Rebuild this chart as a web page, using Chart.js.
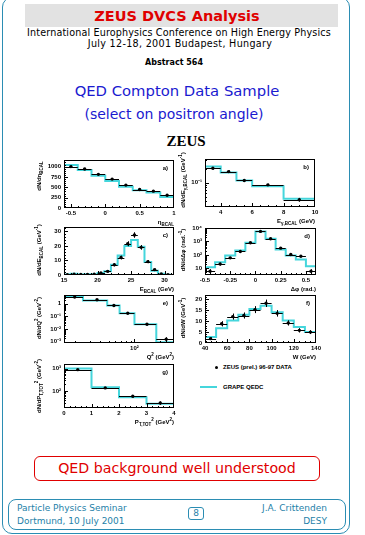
<!DOCTYPE html>
<html lang="en">
<head>
<meta charset="UTF-8">
<title>ZEUS DVCS Analysis</title>
<script src="https://cdn.jsdelivr.net/npm/chart.js"></script>
<style>
    body { margin: 0; width: 365px; height: 535px; background: #fff; position: relative; overflow: hidden;
           font-family: 'DejaVu Sans', sans-serif; }
    .c { position: absolute; white-space: nowrap; transform: translate(-50%, -50%); line-height: 1; }
    .l { position: absolute; white-space: nowrap; transform: translateY(-50%); line-height: 1; }
    .r { position: absolute; white-space: nowrap; transform: translate(-100%, -50%); line-height: 1; }
    .yt { position: absolute; white-space: nowrap; transform: translate(-50%, -50%) rotate(-90deg); line-height: 1;
          font: bold 6px 'Liberation Sans', sans-serif; }
    .ax { font: bold 6px 'Liberation Sans', sans-serif; }
    sub, sup { font-size: 4.5px; line-height: 0; }
    #slide { position: absolute; left: 2px; top: -3px; width: 346px; height: 535px; border: 1.5px solid #2b8db3; border-radius: 10px; }
    #band { position: absolute; left: 25px; top: 4px; width: 313px; height: 23px; background: #e2e2e2; }
    #redbox { position: absolute; left: 34px; top: 456px; width: 284px; height: 23px; border: 1px solid #e00000; border-radius: 6px; }
    #foot { position: absolute; left: 8px; top: 499px; width: 336px; height: 29px; border: 1px solid #2b8db3; border-radius: 8px; }
    #page { position: absolute; left: 188px; top: 507px; width: 14px; height: 11px; border: 1px solid #2b8db3; border-radius: 3px; }
    .teal { color: #1e7fa8; font-size: 9px; }
    canvas { position: absolute; }
</style>
</head>
<body>
    <div id="slide"></div>
    <div id="band"></div>
    <div class="c" style="left:177px; top:15.5px; color:#e00000; font-weight:bold; font-size:14.5px;">ZEUS DVCS Analysis</div>
    <div class="c" style="left:179px; top:33px; font-size:9.6px; letter-spacing:0.15px;">International Europhysics Conference on High Energy Physics</div>
    <div class="c" style="left:180px; top:43.5px; font-size:9.6px; letter-spacing:0.3px;">July 12-18, 2001 Budapest, Hungary</div>
    <div class="c" style="left:174px; top:63px; font-size:8px; font-weight:bold;">Abstract 564</div>
    <div class="c" style="left:177px; top:91px; color:#1a1ad0; font-size:14.8px;">QED Compton Data Sample</div>
    <div class="c" style="left:174px; top:114px; color:#1a1ad0; font-size:14px;">(select on positron angle)</div>
    <div class="c" style="left:186px; top:141px; font:bold 15px 'Liberation Serif', serif;">ZEUS</div>

    <div id="redbox"></div>
    <div class="c" style="left:177px; top:468px; color:#e00000; font-size:14.2px;">QED background well understood</div>
    <div id="foot"></div>
    <div id="page"></div>
    <div class="c teal" style="left:196px; top:513px;">8</div>
    <div class="l teal" style="left:17px; top:508px;">Particle Physics Seminar</div>
    <div class="l teal" style="left:17px; top:521px;">Dortmund, 10 July 2001</div>
    <div class="r teal" style="left:327px; top:508px;">J.A. Crittenden</div>
    <div class="r teal" style="left:327px; top:521px;">DESY</div>

    <!-- legend -->
    <div style="position:absolute; left:214.5px; top:365.5px; width:3px; height:3px; border-radius:50%; background:#000;"></div>
    <div class="l ax" style="left:223px; top:367px;">ZEUS (prel.) 96-97 DATA</div>
    <div style="position:absolute; left:200px; top:386px; width:17px; height:1.5px; background:#45d6dc;"></div>
    <div class="l ax" style="left:223px; top:387px;">GRAPE QEDC</div>

<script>
// ---- values ----
// a) eta of the BCAL cluster
const etaEdges = [-0.6, -0.4, -0.2, 0, 0.2, 0.4, 0.6, 0.8, 1.0];
const etaMC    = [1040, 919, 780, 650, 512, 431, 374, 268];
const etaData  = [1000, 943, 813, 699, 553, 447, 407, 309];
const etaErr   = [28, 27, 25, 23, 21, 19, 18, 16];

// b) photon energy
const egEdges = [3, 4, 5, 6, 8, 10];
const egMC    = [0.22, 0.164, 0.111, 0.083, 0.045];
const egData  = [0.203, 0.172, 0.111, 0.0895, 0.043];
const egErr   = [0.012, 0.011, 0.008, 0.005, 0.004];

// c) BCAL energy
const ebEdges = [15, 16, 17, 18, 19, 20, 21, 22, 23, 24, 25, 26, 27, 28, 29, 30, 31];
const ebMC    = [0.3, 0.8, 0.4, 0.5, 0.6, 1.4, 2.5, 7, 13.4, 20, 24, 19.5, 9, 3, 0.8, 0.2];
const ebData  = [0.2, 0.6, 0.3, 0.4, 0.5, 1.4, 2.5, 7, 12, 21.5, 27.5, 19, 9.2, 3.7, 0.8, 0.2];
const ebErr   = [0.2, 0.3, 0.2, 0.2, 0.3, 0.5, 0.7, 1, 1.3, 1.7, 1.9, 1.6, 1.1, 0.7, 0.3, 0.2];

// d) acoplanarity
const dphiEdges = [-0.5, -0.4, -0.3, -0.2, -0.1, 0, 0.1, 0.2, 0.3, 0.4, 0.5, 0.6];
const dphiMC    = [11.9, 28, 89, 211, 794, 5600, 1585, 251, 89, 45, 14];
const dphiData  = [6, 21, 60, 178, 794, 5600, 1585, 316, 106, 79, 6];
const dphiErr   = [2.5, 5, 8, 14, 28, 75, 40, 18, 10, 9, 2.5];

// e) Q2
const q2Edges = [15, 25, 48, 67, 100, 180, 290];
const q2MC    = [3.8, 1.84, 0.74, 0.18, 0.024, 0.0009];
const q2Data  = [3.4, 2.1, 0.74, 0.18, 0.024, 0.0016];
const q2Err   = [0.15, 0.08, 0.04, 0.015, 0.004, 0.0007];

// f) W
const wEdges = [40, 50, 60, 70, 80, 90, 100, 110, 120, 130, 140];
const wMC    = [2.7, 6.8, 10.3, 13, 15.6, 17.1, 14.1, 10.3, 7.3, 5];
const wData  = [2.0, 8.8, 12.1, 12.6, 15.3, 18.2, 13.6, 9.2, 5.8, 5];
const wErr   = [0.6, 1.2, 1.4, 1.4, 1.6, 1.7, 1.5, 1.2, 1, 0.9];

// g) total pt^2
const ptEdges = [0, 1, 2, 3, 4];
const ptMC    = [1000, 150, 54, 27.6];
const ptData  = [900, 140, 60, 30];
const ptErr   = [30, 12, 7, 5];

const CYAN = '#45d6dc';
Chart.defaults.font.family = "'Liberation Sans', sans-serif";
Chart.defaults.font.size = 6;
Chart.defaults.font.weight = 'bold';
Chart.defaults.color = '#000';

const SUP = {'-': '⁻', '0': '⁰', '1': '¹', '2': '²', '3': '³', '4': '⁴', '5': '⁵', '6': '⁶', '7': '⁷', '8': '⁸', '9': '⁹'};
function powLabel(v) {
    const n = Math.round(Math.log10(v));
    if (n === 0) return '1';
    if (n === 1) return '10';
    return '10' + String(n).split('').map(ch => SUP[ch]).join('');
}

function tickList(s, nMinor) {
    const out = [];
    if (s.type === 'logarithmic') {
        for (let n = Math.floor(Math.log10(s.min)); n <= Math.ceil(Math.log10(s.max)); n++) {
            for (let k = 1; k < 10; k++) {
                const v = k * Math.pow(10, n);
                if (v >= s.min * 0.999 && v <= s.max * 1.001) out.push({v, major: k === 1});
            }
        }
    } else {
        const t = s.ticks.map(t => t.value);
        const step = (t[1] - t[0]) / nMinor;
        for (let v = Math.ceil(s.min / step - 1e-6) * step; v <= s.max + 1e-9; v += step) {
            out.push({v, major: t.some(m => Math.abs(m - v) < step / 10)});
        }
    }
    return out;
}

// frame, inward ticks and error bars, all placed with the chart's scales
const hep = {
    id: 'hep',
    afterDatasetsDraw(chart, args, opts) {
        const {ctx, chartArea: a, scales: {x, y}} = chart;
        ctx.save();
        ctx.strokeStyle = '#000';
        ctx.lineWidth = 1;
        ctx.beginPath();
        ctx.rect(a.left, a.top, a.width, a.height);
        ctx.clip();
        chart.data.datasets.forEach(ds => {
            if (!ds.edges) return;
            ds.data.forEach((p, i) => {
                const py = Math.round(y.getPixelForValue(p.y)) + 0.5;
                const px = Math.round(x.getPixelForValue(p.x)) + 0.5;
                const lo = Math.max(p.y - ds.errs[i], y.min * 0.5);
                ctx.beginPath();
                ctx.moveTo(x.getPixelForValue(ds.edges[i]), py);
                ctx.lineTo(x.getPixelForValue(ds.edges[i + 1]), py);
                ctx.moveTo(px, y.getPixelForValue(lo));
                ctx.lineTo(px, y.getPixelForValue(p.y + ds.errs[i]));
                ctx.stroke();
            });
        });
        ctx.beginPath();
        tickList(x, opts.xMinor || 5).forEach(t => {
            const px = Math.round(x.getPixelForValue(t.v)) + 0.5;
            ctx.moveTo(px, a.bottom);
            ctx.lineTo(px, a.bottom - (t.major ? 4 : 2));
        });
        tickList(y, opts.yMinor || 5).forEach(t => {
            const py = Math.round(y.getPixelForValue(t.v)) + 0.5;
            ctx.moveTo(a.left, py);
            ctx.lineTo(a.left + (t.major ? 4 : 2), py);
        });
        ctx.stroke();
        ctx.restore();
        ctx.save();
        ctx.strokeStyle = '#000';
        ctx.lineWidth = 1;
        ctx.strokeRect(a.left + 0.5, a.top + 0.5, a.width - 1, a.height - 1);
        ctx.restore();
    }
};

function axis(spec) {
    const s = {
        type: spec.log ? 'logarithmic' : 'linear',
        min: spec.min, max: spec.max,
        grid: {display: false, drawTicks: false},
        border: {display: false},
        ticks: {autoSkip: false, maxRotation: 0, includeBounds: false, padding: 2}
    };
    if (spec.log) {
        s.afterBuildTicks = sc => {
            const t = [];
            for (let n = Math.ceil(Math.log10(sc.min) - 1e-6); Math.pow(10, n) <= sc.max * 1.001; n++) t.push({value: Math.pow(10, n)});
            sc.ticks = t;
        };
        s.ticks.callback = v => powLabel(v);
    } else {
        s.ticks.stepSize = spec.step;
        s.ticks.callback = v => String(Math.round(v * 1000) / 1000);
    }
    return s;
}

function panel(p) {
    const cv = document.createElement('canvas');
    const W = p.w + 48, H = p.h + 26;
    cv.width = W; cv.height = H;
    cv.style.left = (p.l - 42) + 'px';
    cv.style.top = (p.t - 6) + 'px';
    document.body.appendChild(cv);

    const xs = axis(p.x), ys = axis(p.y);
    xs.afterFit = s => { s.height = 20; s.paddingLeft = 0; s.paddingRight = 0; };
    ys.afterFit = s => { s.width = 42; s.paddingTop = 0; s.paddingBottom = 0; };
    ys.ticks.padding = 3;

    const pts = p.data.map((v, i) => ({x: (p.edges[i] + p.edges[i + 1]) / 2, y: v}));
    const hist = p.edges.map((e, i) => ({x: e, y: p.mc[Math.min(i, p.mc.length - 1)]}));

    new Chart(cv, {
        type: 'line',
        data: {
            datasets: [
                {data: pts, edges: p.edges, errs: p.err, showLine: false, pointRadius: 1.7,
                 pointBackgroundColor: '#000', pointBorderWidth: 0},
                {data: hist, stepped: true, borderColor: CYAN, borderWidth: 2, pointRadius: 0, fill: false}
            ]
        },
        options: {
            responsive: false,
            animation: false,
            layout: {padding: {left: 0, top: 6, right: 6, bottom: 0}},
            scales: {x: xs, y: ys},
            plugins: {legend: {display: false}, tooltip: {enabled: false}, hep: {xMinor: p.xMinor, yMinor: p.yMinor}}
        },
        plugins: [hep]
    });

    const lab = (cls, html, x, y) => {
        const d = document.createElement('div');
        d.className = cls;
        d.innerHTML = html;
        d.style.left = x + 'px';
        d.style.top = y + 'px';
        document.body.appendChild(d);
    };
    lab('yt', p.ytitle, p.ytx, p.yty);
    lab('r ax', p.xtitle, p.l + p.w, p.t + p.h + 14);
    lab('r ax', p.tag, p.l + p.w - 6, p.t + 8);
}

panel({l: 64, t: 160, w: 110, h: 48, edges: etaEdges, mc: etaMC, data: etaData, err: etaErr,
       x: {min: -0.6, max: 1.0, step: 0.5}, y: {min: 0, max: 1160, step: 250}, xMinor: 5, yMinor: 5,
       ytitle: 'dN/d&eta;<sub>BCAL</sub>', ytx: 39, yty: 176, xtitle: '&eta;<sub>BCAL</sub>', tag: 'a)'});
panel({l: 205, t: 159, w: 110, h: 48, edges: egEdges, mc: egMC, data: egData, err: egErr,
       x: {min: 3, max: 10, step: 2}, y: {log: true, min: 0.03, max: 0.32}, xMinor: 4,
       ytitle: 'dN/dE<sub>&gamma;,BCAL</sub> (GeV<sup>-1</sup>)', ytx: 183, yty: 180, xtitle: 'E<sub>&gamma;,BCAL</sub> (GeV)', tag: 'b)'});
panel({l: 64, t: 227, w: 110, h: 48, edges: ebEdges, mc: ebMC, data: ebData, err: ebErr,
       x: {min: 15, max: 31.4, step: 5}, y: {min: 0, max: 33, step: 10}, xMinor: 5, yMinor: 5,
       ytitle: 'dN/dE<sub>BCAL</sub> (GeV<sup>-1</sup>)', ytx: 39, yty: 250, xtitle: 'E<sub>BCAL</sub> (GeV)', tag: 'c)'});
panel({l: 205, t: 228, w: 111, h: 47, edges: dphiEdges, mc: dphiMC, data: dphiData, err: dphiErr,
       x: {min: -0.5, max: 0.6, step: 0.25}, y: {log: true, min: 3.16, max: 10000}, xMinor: 5,
       ytitle: 'dN/d&Delta;&phi; (rad.<sup>-1</sup>)', ytx: 183, yty: 250, xtitle: '&Delta;&phi; (rad.)', tag: 'd)'});
panel({l: 64, t: 295, w: 110, h: 48, edges: q2Edges, mc: q2MC, data: q2Data, err: q2Err,
       x: {log: true, min: 15, max: 290}, y: {log: true, min: 0.0008, max: 5},
       ytitle: 'dN/dQ<sup>2</sup> (GeV<sup>-2</sup>)', ytx: 39, yty: 318, xtitle: 'Q<sup>2</sup> (GeV<sup>2</sup>)', tag: 'e)'});
panel({l: 205, t: 295, w: 111, h: 48, edges: wEdges, mc: wMC, data: wData, err: wErr,
       x: {min: 40, max: 140, step: 20}, y: {min: 0, max: 22, step: 5}, xMinor: 4, yMinor: 5,
       ytitle: 'dN/dW (GeV<sup>-1</sup>)', ytx: 183, yty: 318, xtitle: 'W (GeV)', tag: 'f)'});
panel({l: 64, t: 364, w: 110, h: 44, edges: ptEdges, mc: ptMC, data: ptData, err: ptErr,
       x: {min: 0, max: 4, step: 1}, y: {log: true, min: 18, max: 1600}, xMinor: 5,
       ytitle: 'dN/dP<sub>T,TOT</sub><sup>2</sup> (GeV<sup>-2</sup>)', ytx: 39, yty: 386, xtitle: 'P<sub>T,TOT</sub><sup>2</sup> (GeV<sup>2</sup>)', tag: 'g)'});
</script>
</body>
</html>
